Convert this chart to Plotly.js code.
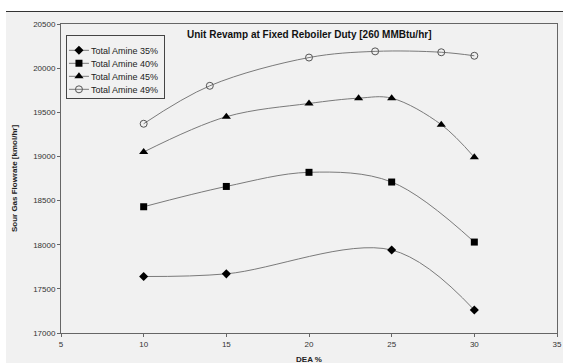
<!DOCTYPE html>
<html>
<head>
<meta charset="utf-8">
<script src="https://cdn.plot.ly/plotly-3.0.1.min.js"></script>
<style>
html,body{margin:0;padding:0;background:#ffffff;width:563px;height:363px;overflow:hidden;}
#chart{position:absolute;left:6px;top:11px;width:557px;height:352px;border-top:1px solid #333;background:#f1f1f1;}
</style>
</head>
<body>
<div id="chart"></div>
<script>
const x35 = [10, 15, 25, 30];
const y35 = [17640, 17670, 17940, 17260];
const x40 = [10, 15, 20, 25, 30];
const y40 = [18430, 18660, 18820, 18710, 18030];
const x45 = [10, 15, 20, 23, 25, 28, 30];
const y45 = [19050, 19450, 19600, 19660, 19660, 19360, 18990];
const x49 = [10, 14, 20, 24, 28, 30];
const y49 = [19370, 19800, 20120, 20190, 20180, 20140];
const names = ["Total Amine 35%", "Total Amine 40%", "Total Amine 45%", "Total Amine 49%"];
const xTicks = [5, 10, 15, 20, 25, 30, 35];
const yTicks = [17000, 17500, 18000, 18500, 19000, 19500, 20000, 20500];

const lineStyle = {color: '#7a7a7a', width: 1, shape: 'spline', smoothing: 1};
const traces = [
  {x: x35, y: y35, name: names[0], mode: 'lines+markers', line: lineStyle,
   marker: {symbol: 'diamond', size: 7, color: '#000'}},
  {x: x40, y: y40, name: names[1], mode: 'lines+markers', line: lineStyle,
   marker: {symbol: 'square', size: 7, color: '#000'}},
  {x: x45, y: y45, name: names[2], mode: 'lines+markers', line: lineStyle,
   marker: {symbol: 'triangle-up', size: 8, color: '#000'}},
  {x: x49, y: y49, name: names[3], mode: 'lines+markers', line: lineStyle,
   marker: {symbol: 'circle-open', size: 7, color: '#555', line: {width: 1, color: '#555'}}}
];

const axisFont = {family: 'Liberation Sans, Arial, sans-serif', size: 8, color: '#333'};
const layout = {
  width: 557, height: 352,
  margin: {l: 55, r: 6, t: 12, b: 31},
  paper_bgcolor: '#f1f1f1',
  plot_bgcolor: '#f1f1f1',
  showlegend: true,
  legend: {
    x: 0.01, y: 0.965, xanchor: 'left', yanchor: 'top',
    bgcolor: '#f1f1f1', bordercolor: '#444', borderwidth: 1,
    font: {family: 'Liberation Sans, Arial, sans-serif', size: 9, color: '#222'},
    itemwidth: 30, tracegroupgap: 0
  },
  xaxis: {
    range: [5, 35], tickvals: xTicks, ticktext: xTicks.map(String),
    showgrid: false, zeroline: false,
    showline: true, linecolor: '#666', linewidth: 1, mirror: true,
    ticks: 'outside', ticklen: 3, tickcolor: '#666',
    tickfont: axisFont,
    title: {text: '<b>DEA %</b>', font: {family: 'Liberation Sans, Arial, sans-serif', size: 8, color: '#222'}, standoff: 10}
  },
  yaxis: {
    range: [17000, 20500], tickvals: yTicks, ticktext: yTicks.map(String),
    showgrid: false, zeroline: false,
    showline: true, linecolor: '#666', linewidth: 1, mirror: true,
    ticks: 'outside', ticklen: 3, tickcolor: '#666',
    tickfont: axisFont,
    title: {text: '<b>Sour Gas Flowrate [kmol/hr]</b>', font: {family: 'Liberation Sans, Arial, sans-serif', size: 8, color: '#222'}, standoff: 14}
  },
  annotations: [{
    text: '<b>Unit Revamp at Fixed Reboiler Duty [260 MMBtu/hr]</b>',
    xref: 'paper', yref: 'paper', x: 0.5, y: 1, xanchor: 'center', yanchor: 'top',
    yshift: -3, showarrow: false,
    font: {family: 'Liberation Sans, Arial, sans-serif', size: 10, color: '#111'}
  }]
};

Plotly.newPlot('chart', traces, layout, {displayModeBar: false, staticPlot: true}).then(function (gd) {
  // Tighten legend row spacing (Excel-style compact legend)
  const rowGap = 13;
  const items = gd.querySelectorAll('.legend .traces');
  let firstY = null;
  items.forEach(function (el, i) {
    const t = el.getAttribute('transform') || '';
    const m = t.match(/translate\(\s*([-\d.]+)[ ,]+([-\d.]+)\s*\)/);
    if (!m) return;
    const tx = parseFloat(m[1]), ty = parseFloat(m[2]);
    if (firstY === null) firstY = ty;
    el.setAttribute('transform', 'translate(' + tx + ',' + (firstY + i * rowGap) + ')');
    el.querySelectorAll('.legendlines path').forEach(function (p) {
      p.setAttribute('d', 'M2,0h20');
    });
    el.querySelectorAll('.legendpoints path').forEach(function (p) {
      const tr = p.getAttribute('transform') || '';
      p.setAttribute('transform', tr.replace(/translate\(\s*20[ ,]/, 'translate(12,'));
    });
    el.querySelectorAll('text.legendtext').forEach(function (tx2) {
      tx2.setAttribute('x', '24');
    });
  });
  const bg = gd.querySelector('.legend rect.bg');
  if (bg && items.length && firstY !== null) {
    const w = parseFloat(bg.getAttribute('width'));
    bg.setAttribute('height', (firstY + (items.length - 1) * rowGap + 9).toFixed(1));
    bg.setAttribute('width', (w - 16).toFixed(1));
  }
});
</script>
</body>
</html>
